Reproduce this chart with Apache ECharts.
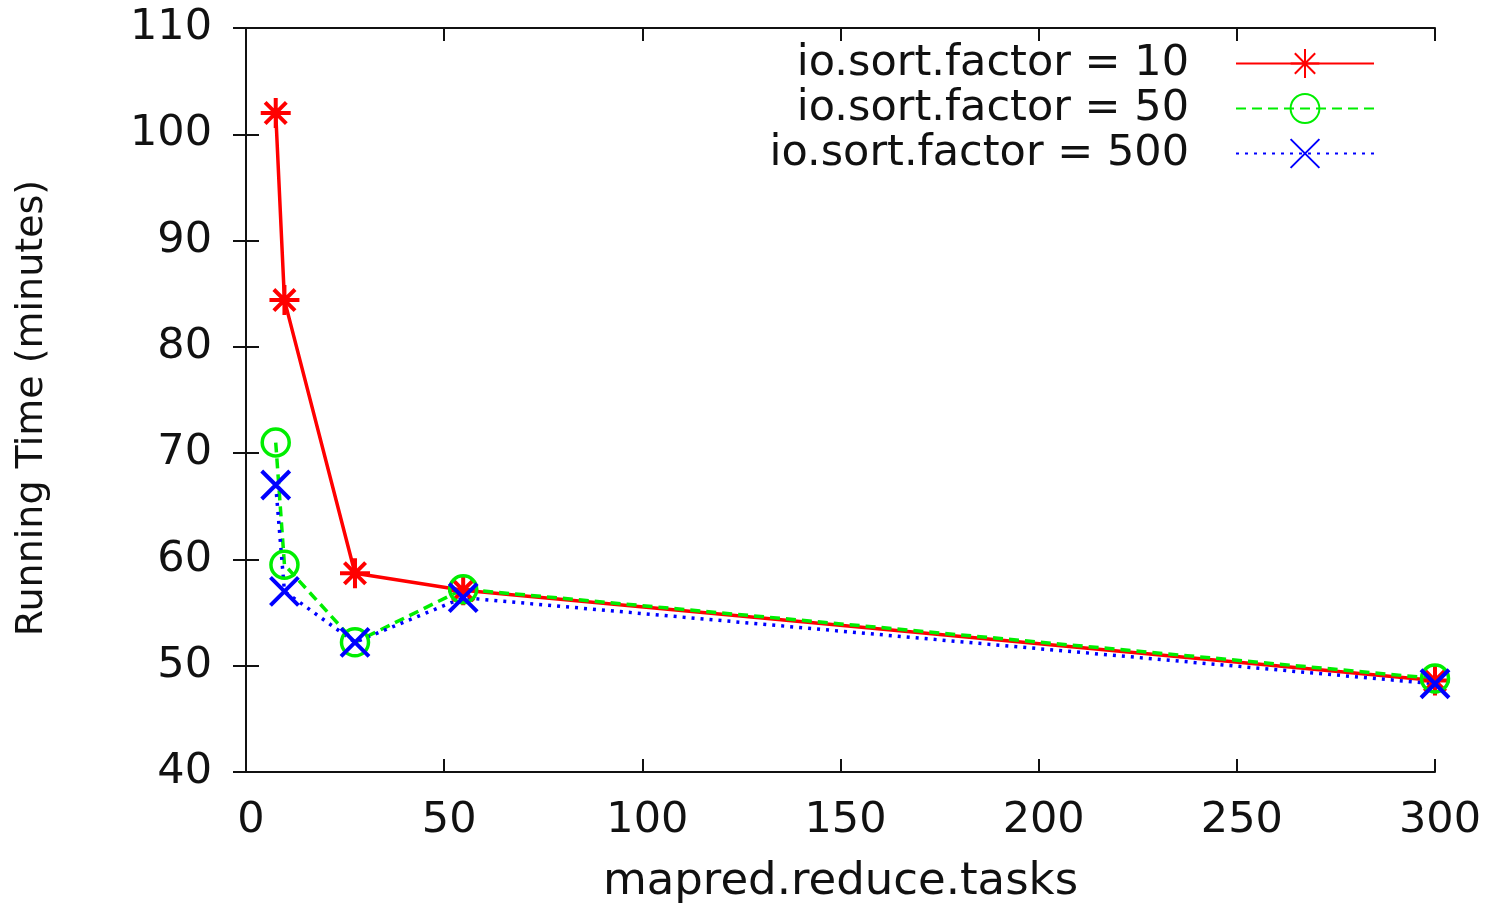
<!DOCTYPE html>
<html lang="en">
<head>
    <meta charset="UTF-8">
    <title>io.sort.factor</title>
    <script src="https://cdn.jsdelivr.net/npm/echarts@6/dist/echarts.min.js"></script>
    <style>
        html, body { margin: 0; padding: 0; background: #fff; }
        #main { width: 1488px; height: 908px; }
    </style>
</head>
<body>
<div id="main"></div>
<script>
    // mapred.reduce.tasks
    var tasks = [7.5, 9.7, 27.5, 54.8, 300];
    // running time in minutes
    var factor10 = [102, 84.4, 58.7, 57.1, 48.6];
    var factor50 = [71, 59.5, 52.2, 57.2, 48.8];
    var factor500 = [67, 57, 52.2, 56.4, 48.3];
    var names = ['io.sort.factor = 10', 'io.sort.factor = 50', 'io.sort.factor = 500'];
    var xTicks = [0, 300, 50];   // min, max, step
    var yTicks = [40, 110, 10];

    var font = 'DejaVu Sans';
    var ink = '#111';

    function pairs(ys) {
        var out = [];
        for (var i = 0; i < tasks.length; i++) out.push([tasks[i], ys[i]]);
        return out;
    }

    var star = 'path://M15 0L15 30M0 15L30 15M4.4 4.4L25.6 25.6M25.6 4.4L4.4 25.6';
    var cross = 'path://M0 0L30 30M30 0L0 30';

    var axisLine = { show: true, lineStyle: { color: ink, width: 2 } };
    var axisTick = { show: true, inside: true, length: 13, lineStyle: { color: ink, width: 2 } };

    var myChart = echarts.init(document.getElementById('main'));
    var option = {
        animation: false,
        textStyle: { fontFamily: font },
        grid: { left: 246, right: 53, top: 28, bottom: 136, containLabel: false, outerBoundsMode: 'none' },
        legend: {
            orient: 'vertical',
            right: 113,
            top: 42,
            padding: 0,
            align: 'right',
            itemWidth: 138,
            itemHeight: 36,
            itemGap: 2,
            textStyle: { fontFamily: font, fontSize: 43, color: ink, lineHeight: 36, padding: [0, 42, 0, 0] },
            data: names
        },
        xAxis: [{
            type: 'value', min: xTicks[0], max: xTicks[1], interval: xTicks[2],
            name: 'mapred.reduce.tasks', nameLocation: 'middle', nameGap: 88,
            nameTextStyle: { fontFamily: font, fontSize: 45, color: ink },
            axisLine: axisLine, axisTick: axisTick,
            axisLabel: { fontFamily: font, fontSize: 43, color: ink, margin: 27, padding: [0, 0, 0, 10] },
            splitLine: { show: false }
        }, {
            type: 'value', position: 'top', min: xTicks[0], max: xTicks[1], interval: xTicks[2],
            axisLine: axisLine, axisTick: axisTick, axisLabel: { show: false }, splitLine: { show: false }
        }],
        yAxis: [{
            type: 'value', min: yTicks[0], max: yTicks[1], interval: yTicks[2],
            name: 'Running Time (minutes)', nameLocation: 'middle', nameGap: 195,
            nameTextStyle: { fontFamily: font, fontSize: 38, color: ink, padding: [0, 16, 0, 0] },
            axisLine: axisLine, axisTick: axisTick,
            axisLabel: { fontFamily: font, fontSize: 43, color: ink, margin: 34 },
            splitLine: { show: false }
        }, {
            type: 'value', position: 'right', min: yTicks[0], max: yTicks[1], interval: yTicks[2],
            axisLine: axisLine, axisTick: axisTick, axisLabel: { show: false }, splitLine: { show: false }
        }],
        series: [{
            name: names[0], type: 'line', data: pairs(factor10),
            symbol: star, symbolSize: 30,
            lineStyle: { color: '#ff0000', width: 3.5, type: 'solid' },
            itemStyle: { color: '#ff0000', borderColor: '#ff0000', borderWidth: 4 }
        }, {
            name: names[1], type: 'line', data: pairs(factor50),
            symbol: 'circle', symbolSize: 27,
            lineStyle: { color: '#00ee00', width: 3.5, type: [10, 6] },
            itemStyle: { color: 'rgba(0,0,0,0)', borderColor: '#00ee00', borderWidth: 3.5 }
        }, {
            name: names[2], type: 'line', data: pairs(factor500),
            symbol: cross, symbolSize: 28,
            lineStyle: { color: '#0000ff', width: 3.5, type: [3, 6] },
            itemStyle: { color: '#0000ff', borderColor: '#0000ff', borderWidth: 4 }
        }]
    };
    myChart.setOption(option);
</script>
</body>
</html>
